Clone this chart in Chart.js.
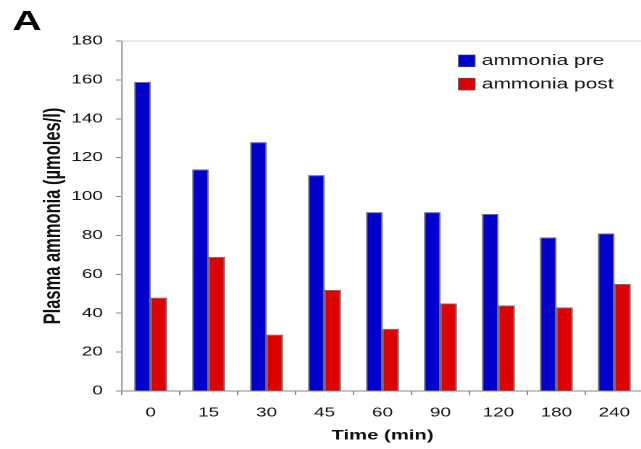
<!DOCTYPE html>
<html>
<head>
<meta charset="utf-8">
<script src="https://cdn.jsdelivr.net/npm/chart.js@4"></script>
<style>
  html, body { margin: 0; padding: 0; background: #fff; overflow: hidden; }
  #wrap { width: 641px; height: 449px; overflow: hidden; position: relative; }
  /* the drawing is 450 wide internally and shown 1.45x wider */
  #chart { position: absolute; left: 0; top: 0; width: 652px; height: 449px; }
</style>
</head>
<body>
<div id="wrap"><canvas id="chart" width="450" height="449" style="width:652px;height:449px"></canvas></div>
<script>
// sampling times (min)
const times = ['0', '15', '30', '45', '60', '90', '120', '180', '240'];
// plasma ammonia, µmoles/l
const ammoniaPre = [159, 114, 128, 111, 92, 92, 91, 79, 81];
const ammoniaPost = [48, 69, 29, 52, 32, 45, 44, 43, 55];
const seriesNames = ['ammonia pre', 'ammonia post'];
const yMax = 180;
const yStep = 20;

const FONT = '"Liberation Sans", Arial, sans-serif';

// panel letter and the boxed legend inside the plot
const panelDecor = {
    id: 'panelDecor',
    afterDraw(chart) {
        const ctx = chart.ctx;
        ctx.save();
        ctx.fillStyle = '#000';
        ctx.font = 'bold 28px ' + FONT;
        ctx.textBaseline = 'alphabetic';
        ctx.fillText('A', 8.5, 30);

        ctx.font = '14.5px ' + FONT;
        ctx.textBaseline = 'middle';
        chart.data.datasets.forEach((ds, i) => {
            const y = 55 + i * 23.3;
            ctx.fillStyle = ds.backgroundColor;
            ctx.fillRect(316.5, y, 11.3, 11.7);
            ctx.strokeStyle = 'rgba(60,60,60,0.8)';
            ctx.lineWidth = 0.8;
            ctx.strokeRect(316.5, y, 11.3, 11.7);
            ctx.fillStyle = '#111';
            ctx.fillText(ds.label, 332.5, y + 6.2);
        });
        ctx.restore();
    }
};

new Chart(document.getElementById('chart'), {
    type: 'bar',
    data: {
        labels: times,
        datasets: [
            { label: seriesNames[0], data: ammoniaPre, backgroundColor: '#0000cc' },
            { label: seriesNames[1], data: ammoniaPost, backgroundColor: '#dd0000' }
        ]
    },
    options: {
        responsive: false,
        animation: false,
        devicePixelRatio: 2,
        layout: { padding: { top: 41, right: 6, left: 0, bottom: 0 } },
        datasets: {
            bar: {
                categoryPercentage: 0.57,
                barPercentage: 1.0,
                borderWidth: 1,
                borderColor: 'rgba(60,60,60,0.75)'
            }
        },
        plugins: {
            legend: { display: false },
            tooltip: { enabled: false }
        },
        scales: {
            x: {
                afterFit: s => { s.height = 58; },
                grid: {
                    drawOnChartArea: false,
                    tickLength: 4,
                    tickColor: '#888'
                },
                border: { color: '#888', width: 1 },
                ticks: {
                    color: '#111',
                    font: { family: FONT, size: 13 },
                    padding: 10,
                    maxRotation: 0
                },
                title: {
                    display: true,
                    text: 'Time (min)',
                    color: '#111',
                    font: { family: FONT, size: 14, weight: 'bold' },
                    padding: { top: 0, bottom: 5 }
                }
            },
            y: {
                min: 0,
                max: yMax,
                afterFit: s => { s.width = 84; },
                grid: {
                    color: c => (c.tick && c.tick.value === yMax) ? '#cfcfcf' : 'transparent',
                    tickLength: 4,
                    tickColor: '#888'
                },
                border: { color: '#aaa', width: 1.3 },
                ticks: {
                    stepSize: yStep,
                    color: '#111',
                    font: { family: FONT, size: 13 },
                    padding: 9
                },
                title: {
                    display: true,
                    text: 'Plasma ammonia (µmoles/l)',
                    color: '#111',
                    font: { family: FONT, size: 16.5, weight: 'bold' },
                    padding: { top: 27, bottom: 0 }
                }
            }
        }
    },
    plugins: [panelDecor]
});
</script>
</body>
</html>
